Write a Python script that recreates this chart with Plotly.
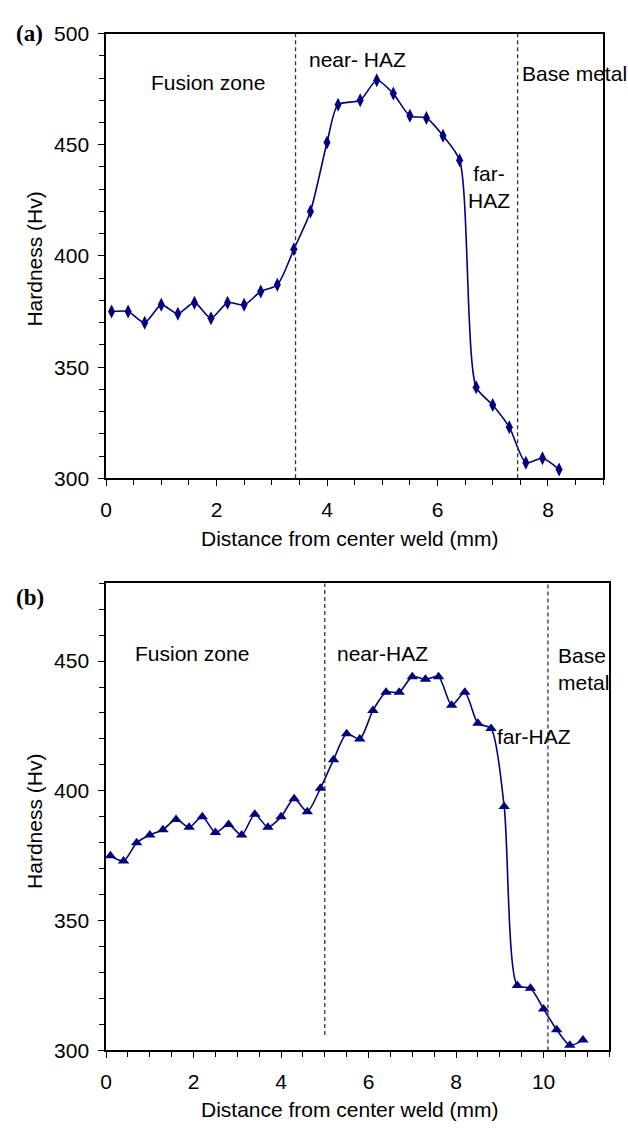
import plotly.graph_objects as go

# ---------------- data ----------------
# (a) upper chart
dist_a = [0.1, 0.4, 0.7, 1.0, 1.3, 1.6, 1.9, 2.2, 2.5, 2.8, 3.1, 3.4, 3.7,
          4.0, 4.2, 4.6, 4.9, 5.2, 5.5, 5.8, 6.1, 6.4, 6.7, 7.0, 7.3, 7.6, 7.9, 8.2]
hard_a = [375, 375, 370, 378, 374, 379, 372, 379, 378, 384, 387, 403, 420,
          451, 468, 470, 479, 473, 463, 462, 454, 443, 341, 333, 323, 307, 309, 304]

# (b) lower chart
dist_b = [0.1, 0.4, 0.7, 1.0, 1.3, 1.6, 1.9, 2.2, 2.5, 2.8, 3.1, 3.4, 3.7, 4.0,
          4.3, 4.6, 4.9, 5.2, 5.5, 5.8, 6.1, 6.4, 6.7, 7.0, 7.3, 7.6, 7.9, 8.2,
          8.5, 8.8, 9.1, 9.4, 9.7, 10.0, 10.3, 10.6, 10.9]
hard_b = [375, 373, 380, 383, 385, 389, 386, 390, 384, 387, 383, 391, 386, 390,
          397, 392, 401, 412, 422, 420, 431, 438, 438, 444, 443, 444, 433, 438,
          426, 424, 394, 325, 324, 316, 308, 302, 304]

# zone boundaries (distance, y-from, y-to)
bounds_a = [(3.43, 300, 500), (7.45, 300, 500)]
bounds_b = [(5.0, 306, 480), (10.1, 300, 480)]

# zone labels (text, x, y, anchor)
labels_a = [("Fusion zone", 1.84, 478, "center"),
            ("near- HAZ", 4.55, 488.5, "center"),
            ("Base metal", 7.5, 482, "left"),
            ("far-<br>HAZ", 6.93, 431, "center")]
labels_b = [("Fusion zone", 1.96, 453, "center"),
            ("near-HAZ", 6.32, 453, "center"),
            ("Base<br>metal", 10.28, 447, "left"),
            ("far-HAZ", 8.88, 421, "left")]

# ---------------- figure ----------------
W, H = 628, 1133
NAVY = "#000080"
FONT = "Liberation Sans, Arial, Helvetica, sans-serif"
FS = 21

def px_x(p):
    return p / W

def px_y(p):
    return 1 - p / H

fig = go.Figure()

fig.add_trace(go.Scatter(
    x=dist_a, y=hard_a, mode="lines+markers", xaxis="x", yaxis="y",
    line=dict(color=NAVY, width=1.6, shape="spline", smoothing=0.7),
    marker=dict(symbol="diamond-tall", size=10, color=NAVY),
    showlegend=False))

fig.add_trace(go.Scatter(
    x=dist_b, y=hard_b, mode="lines+markers", xaxis="x2", yaxis="y2",
    line=dict(color=NAVY, width=1.6, shape="spline", smoothing=0.7),
    marker=dict(symbol="triangle-up", size=10, color=NAVY),
    showlegend=False))

axis_common = dict(
    showline=True, linecolor="black", linewidth=1.5, mirror=True,
    ticks="outside", ticklen=6, tickwidth=1, tickcolor="black",
    showgrid=False, zeroline=False,
    tickfont=dict(family=FONT, size=FS, color="black"),
)

fig.update_layout(
    width=W, height=H,
    margin=dict(l=0, r=0, t=0, b=0),
    plot_bgcolor="white", paper_bgcolor="white",
    xaxis=dict(domain=[px_x(101), px_x(603)], anchor="y", range=[0, 9],
               tickmode="linear", tick0=0, dtick=2, ticklabelstandoff=6,
               minor=dict(dtick=0.5, ticks="outside", ticklen=5, tickcolor="black"),
               **axis_common),
    yaxis=dict(domain=[px_y(476), px_y(22)], anchor="x", range=[300, 500],
               tickmode="linear", tick0=300, dtick=50, ticklabelstandoff=5,
               minor=dict(dtick=10, ticks="outside", ticklen=5, tickcolor="black"),
               **axis_common),
    xaxis2=dict(domain=[px_x(101), px_x(609)], anchor="y2", range=[0, 11.5],
                tickmode="linear", tick0=0, dtick=2, ticklabelstandoff=6,
                minor=dict(dtick=0.5, ticks="outside", ticklen=5, tickcolor="black"),
                **axis_common),
    yaxis2=dict(domain=[px_y(1060), px_y(583)], anchor="x2", range=[300, 480],
                tickmode="linear", tick0=300, dtick=50, ticklabelstandoff=5,
                minor=dict(dtick=10, ticks="outside", ticklen=5, tickcolor="black"),
                **axis_common),
)

shapes = []
for xv, y0, y1 in bounds_a:
    shapes.append(dict(type="line", xref="x", yref="y", x0=xv, x1=xv, y0=y0, y1=y1,
                       line=dict(color="#333333", width=1.3, dash="4px,3px")))
for xv, y0, y1 in bounds_b:
    shapes.append(dict(type="line", xref="x2", yref="y2", x0=xv, x1=xv, y0=y0, y1=y1,
                       line=dict(color="#333333", width=1.3, dash="4px,3px")))
fig.update_layout(shapes=shapes)

ann = []
for txt, xv, yv, anc in labels_a:
    ann.append(dict(text=txt, x=xv, y=yv, xref="x", yref="y", xanchor=anc,
                    yanchor="middle", showarrow=False, align=anc,
                    font=dict(family=FONT, size=FS, color="black")))
for txt, xv, yv, anc in labels_b:
    ann.append(dict(text=txt, x=xv, y=yv, xref="x2", yref="y2", xanchor=anc,
                    yanchor="middle", showarrow=False, align=anc,
                    font=dict(family=FONT, size=FS, color="black")))

# panel letters
for txt, yp in [("(a)", 22), ("(b)", 598)]:
    ann.append(dict(text="<b>%s</b>" % txt, x=px_x(8), y=px_y(yp), xref="paper", yref="paper",
                    xanchor="left", yanchor="middle", showarrow=False,
                    font=dict(family="Liberation Serif, Times New Roman, serif", size=23, color="black")))

# axis titles
for yp in [537, 1120]:
    ann.append(dict(text="Distance from center weld (mm)", x=px_x(347), y=px_y(yp),
                    xref="paper", yref="paper", xanchor="center", yanchor="middle",
                    showarrow=False, font=dict(family=FONT, size=FS, color="black")))
for yp in [252, 826]:
    ann.append(dict(text="Hardness (Hv)", x=px_x(29), y=px_y(yp), textangle=-90,
                    xref="paper", yref="paper", xanchor="center", yanchor="middle",
                    showarrow=False, font=dict(family=FONT, size=FS, color="black")))

fig.update_layout(annotations=ann)

fig.write_html("out.html")
